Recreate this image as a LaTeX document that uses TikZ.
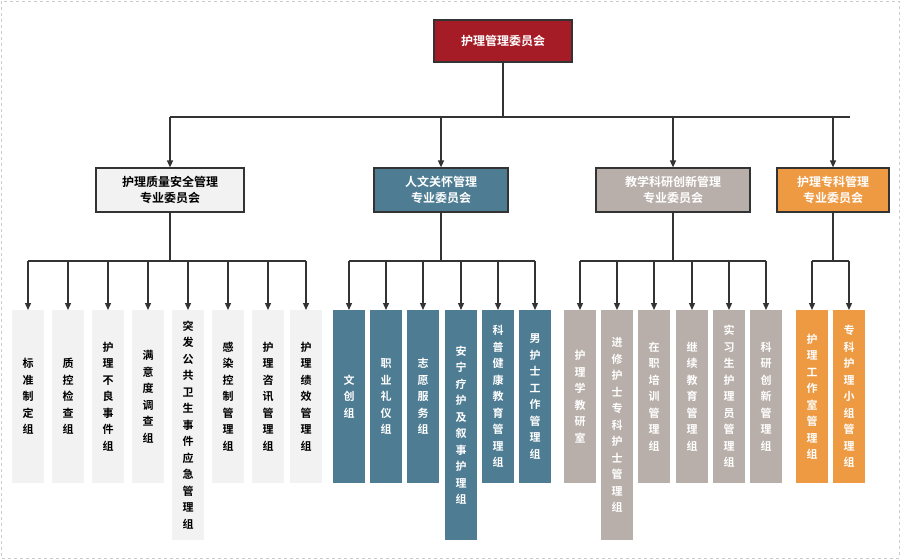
\documentclass[tikz,border=0pt]{standalone}
\usepackage{fontspec}
\newfontfamily\cjk{Noto Sans CJK SC}[BoldFont={Noto Sans CJK SC Bold}]
\usetikzlibrary{arrows.meta}
\definecolor{cred}{HTML}{A51C26}
\definecolor{cgrey}{HTML}{F2F2F2}
\definecolor{cblue}{HTML}{4D7C93}
\definecolor{ctaupe}{HTML}{B8AFAA}
\definecolor{corange}{HTML}{EE9A43}
\definecolor{cline}{HTML}{333333}
\begin{document}
\begin{tikzpicture}[x=1pt,y=-1pt,
  head/.style={draw=cline,line width=1.2pt,minimum height=44pt,align=center,font=\cjk\bfseries\fontsize{12}{16}\selectfont,inner sep=0pt},
  leaf/.style={minimum width=32pt,align=center,font=\cjk\bfseries\fontsize{11}{16.5}\selectfont,inner sep=0pt,text width=12pt},
  arr/.style={draw=cline,line width=1.3pt,-{Triangle[length=7pt,width=6pt]}},
  ln/.style={draw=cline,line width=1.3pt}]
\useasboundingbox (0,0) rectangle (900,559);
\draw[gray!40,dashed,line width=0.5pt] (1,1) rectangle (899,558);
\node[head,fill=cred,text=white,minimum width=138pt,minimum height=42pt] (top) at (503,41) {护理管理委员会};
\node[head,fill=cgrey,text=black,minimum width=148pt] (p1) at (170,190) {护理质量安全管理\\专业委员会};
\node[head,fill=cblue,text=white,minimum width=134pt] (p2) at (441,190) {人文关怀管理\\专业委员会};
\node[head,fill=ctaupe,text=white,minimum width=154pt] (p3) at (673,190) {教学科研创新管理\\专业委员会};
\node[head,fill=corange,text=white,minimum width=112pt] (p4) at (833,190) {护理专科管理\\专业委员会};
\coordinate (b0) at (503,117);
\draw[ln] (top.south) -- (b0);
\draw[ln] (170,117) -- (850,117);
\foreach \p in {p1,p2,p3,p4} \draw[arr] (b0 -| \p) -- (\p.north);
% leaves: name, x, bottom, colour, text colour, text
\foreach \n/\x/\b/\c/\t/\s/\p in {
 a1/28/483/cgrey/black/{标\\准\\制\\定\\组}/p1,
 a2/68/483/cgrey/black/{质\\控\\检\\查\\组}/p1,
 a3/108/483/cgrey/black/{护\\理\\不\\良\\事\\件\\组}/p1,
 a4/148/483/cgrey/black/{满\\意\\度\\调\\查\\组}/p1,
 a5/188/540/cgrey/black/{突\\发\\公\\共\\卫\\生\\事\\件\\应\\急\\管\\理\\组}/p1,
 a6/228/483/cgrey/black/{感\\染\\控\\制\\管\\理\\组}/p1,
 a7/268/483/cgrey/black/{护\\理\\咨\\讯\\管\\理\\组}/p1,
 a8/306/483/cgrey/black/{护\\理\\绩\\效\\管\\理\\组}/p1,
 b1/349/483/cblue/white/{文\\创\\组}/p2,
 b2/386/483/cblue/white/{职\\业\\礼\\仪\\组}/p2,
 b3/423/483/cblue/white/{志\\愿\\服\\务\\组}/p2,
 b4/461/540/cblue/white/{安\\宁\\疗\\护\\及\\叙\\事\\护\\理\\组}/p2,
 b5/498/483/cblue/white/{科\\普\\健\\康\\教\\育\\管\\理\\组}/p2,
 b6/535/483/cblue/white/{男\\护\\士\\工\\作\\管\\理\\组}/p2,
 c1/580/483/ctaupe/white/{护\\理\\学\\教\\研\\室}/p3,
 c2/617/540/ctaupe/white/{进\\修\\护\\士\\专\\科\\护\\士\\管\\理\\组}/p3,
 c3/654/483/ctaupe/white/{在\\职\\培\\训\\管\\理\\组}/p3,
 c4/692/483/ctaupe/white/{继\\续\\教\\育\\管\\理\\组}/p3,
 c5/729/483/ctaupe/white/{实\\习\\生\\护\\理\\员\\管\\理\\组}/p3,
 c6/766/483/ctaupe/white/{科\\研\\创\\新\\管\\理\\组}/p3,
 d1/812/483/corange/white/{护\\理\\工\\作\\室\\管\\理\\组}/p4,
 d2/849/483/corange/white/{专\\科\\护\\理\\小\\组\\管\\理\\组}/p4}
 {
  \fill[\c] (\x-16,310) rectangle (\x+16,\b);
  \node[leaf,text=\t] (\n) at (\x,{(310+\b)/2}) {\s};
  \coordinate (\n t) at (\x,310);
  \draw[arr] (\x,261) -- (\n t);
 }
\foreach \p/\l/\r in {p1/28/306,p2/349/535,p3/580/766,p4/812/849}{
  \draw[ln] (\p.south) -- (\p.south |- 0,261);
  \draw[ln] (\l,261) -- (\r,261);
}
\end{tikzpicture}
\end{document}
